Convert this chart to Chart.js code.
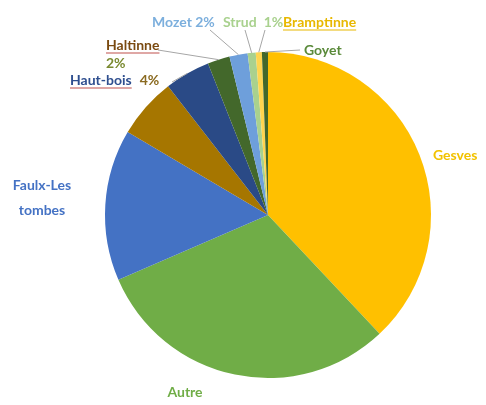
<!DOCTYPE html>
<html>
<head>
  <title>Pie chart</title>
  <script src="https://cdn.jsdelivr.net/npm/chart.js"></script>
  <style>
    html, body { margin: 0; padding: 0; background: #fff; }
    #wrap { width: 486px; height: 405px; }
  </style>
</head>
<body>
  <div id="wrap"><canvas id="myChart" width="486" height="405"></canvas></div>
  <script>
    // slices clockwise from 12 o'clock
    var categories = ['Gesves', 'Autre', 'Faulx-Les tombes', 'Bois-de-Villers', 'Haut-bois', 'Haltinne', 'Mozet', 'Strud', 'Bramptinne', 'Goyet'];
    var shares = [38, 30.5, 15, 6, 4.5, 2.2, 1.8, 0.8, 0.6, 0.6];
    var sliceColors = ['#FFC000', '#70AD47', '#4472C4', '#A67600', '#2A4A86', '#43682B', '#6E9FDB', '#A9D18E', '#FFD54F', '#43682B'];

    // label text per slice (null = no label drawn)
    var labelText = [['Gesves'], ['Autre'], ['Faulx-Les', 'tombes'], null, ['Haut-bois', '4%'], ['Haltinne', '2%'], ['Mozet 2%'], ['Strud', '1%'], ['Bramptinne'], ['Goyet']];

    // where each label sits, and whether a leader line is drawn
    var labelLayout = [
      { x: 433, y: 155, align: 'left', color: '#F2C200' },
      { x: 185, y: 392, align: 'center', color: '#70AD47' },
      { x: 42, y: 185, align: 'center', color: '#4472C4', lh: 25 },
      null,
      { x: 70, y: 80, align: 'left', color: ['#2F4F8F', '#8A6A20'], inline: true, gap: 8, underline: '#C0504D', line: [172, 82] },
      { x: 106, y: 45, align: 'left', color: ['#7A4A10', '#7A8A30'], lh: 18, underline: '#C0504D', line: [158, 50] },
      { x: 152, y: 22, align: 'left', color: '#7CAFDD', line: [210, 30] },
      { x: 223, y: 22, align: 'left', color: ['#A9D18E', '#A9D18E'], inline: true, gap: 7, line: [245, 30] },
      { x: 283, y: 22, align: 'left', color: '#E8B800', underline: '#E8B800', line: [265, 30] },
      { x: 304, y: 50, align: 'left', color: '#5A8A3A', line: [300, 50] }
    ];

    var pieLabels = {
      id: 'pieLabels',
      afterDraw: function(chart) {
        var ctx = chart.ctx;
        var arcs = chart.getDatasetMeta(0).data;
        ctx.save();
        ctx.font = 'bold 14px Lato, "Open Sans", sans-serif';
        ctx.textBaseline = 'middle';
        arcs.forEach(function(arc, i) {
          var lay = labelLayout[i];
          if (!lay || !labelText[i]) return;
          var p = arc.getProps(['x', 'y', 'startAngle', 'endAngle', 'outerRadius'], true);
          var mid = (p.startAngle + p.endAngle) / 2;
          // leader line from slice edge to label
          if (lay.line) {
            var ex = p.x + Math.cos(mid) * p.outerRadius;
            var ey = p.y + Math.sin(mid) * p.outerRadius;
            ctx.strokeStyle = '#A6A6A6';
            ctx.lineWidth = 1;
            ctx.beginPath();
            ctx.moveTo(ex, ey);
            ctx.lineTo(lay.line[0], lay.line[1]);
            ctx.stroke();
          }
          var lines = labelText[i];
          var cx = lay.x, cy = lay.y;
          lines.forEach(function(t, k) {
            var col = Array.isArray(lay.color) ? lay.color[k] : lay.color;
            ctx.fillStyle = col;
            ctx.textAlign = lay.align;
            ctx.fillText(t, cx, cy);
            var w = ctx.measureText(t).width;
            if (lay.underline && k === 0) {
              var ux = lay.align === 'center' ? cx - w / 2 : cx;
              ctx.strokeStyle = lay.underline;
              ctx.lineWidth = 1.2;
              ctx.beginPath();
              ctx.moveTo(ux, cy + 8);
              ctx.lineTo(ux + w, cy + 8);
              ctx.stroke();
            }
            if (lay.inline) {
              cx += w + (lay.gap || 4);
            } else {
              cy += lay.lh || 17;
            }
          });
        });
        ctx.restore();
      }
    };

    var ctx = document.getElementById('myChart').getContext('2d');
    var myChart = new Chart(ctx, {
      type: 'pie',
      data: {
        labels: categories,
        datasets: [{
          data: shares,
          backgroundColor: sliceColors,
          borderWidth: 0
        }]
      },
      options: {
        responsive: false,
        animation: false,
        layout: {
          padding: { left: 105, right: 55, top: 52, bottom: 27 }
        },
        plugins: {
          legend: { display: false },
          tooltip: { enabled: false }
        }
      },
      plugins: [pieLabels]
    });
  </script>
</body>
</html>
